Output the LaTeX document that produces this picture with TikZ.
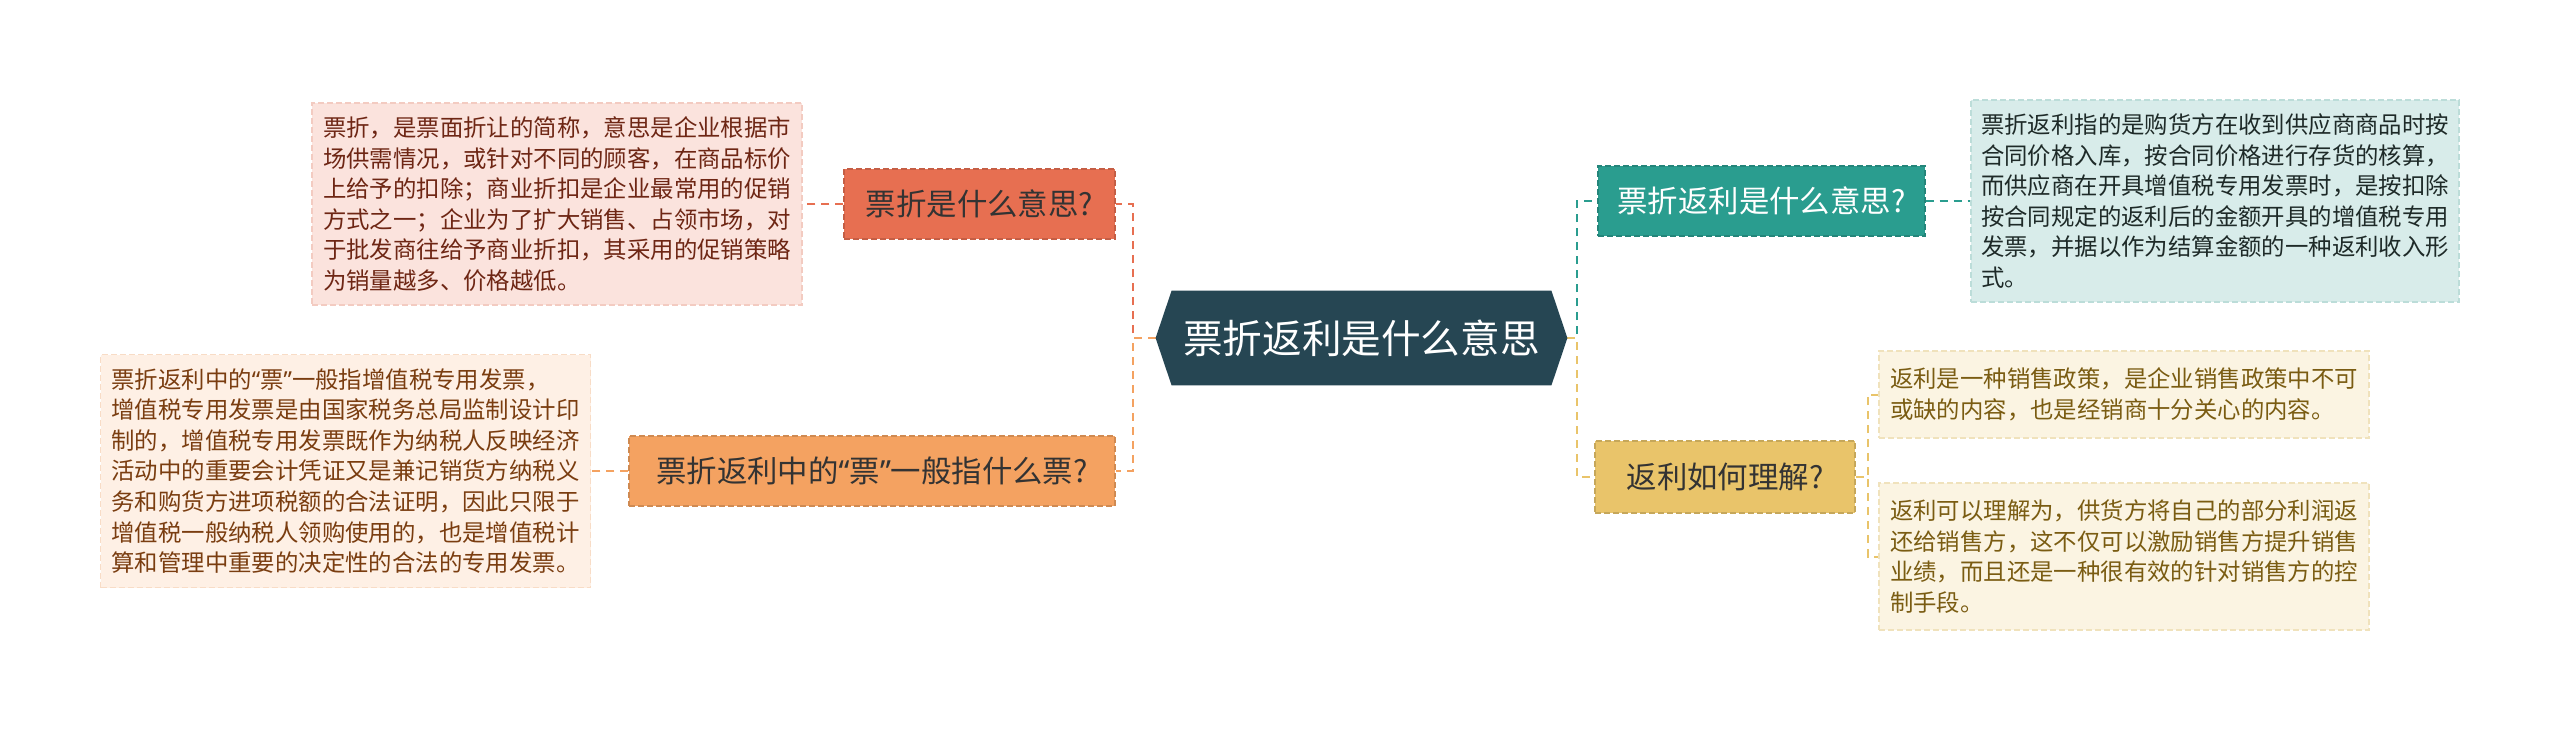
\documentclass[tikz,border=0pt]{standalone}
\usepackage{fontspec}
\setmainfont{Noto Sans CJK SC}
\newfontfamily\qfont{Noto Sans}
\usetikzlibrary{backgrounds}
\definecolor{cdark}{HTML}{264653}
\definecolor{cteal}{HTML}{2A9D8F}
\definecolor{cgold}{HTML}{E9C46A}
\definecolor{corange}{HTML}{F4A261}
\definecolor{cred}{HTML}{E76F51}
\definecolor{tredfill}{HTML}{FBE3DD}
\definecolor{tredline}{HTML}{F3CBC1}
\definecolor{tredtext}{HTML}{6E2614}
\definecolor{torfill}{HTML}{FEF0E5}
\definecolor{torline}{HTML}{F8DCC6}
\definecolor{tortext}{HTML}{7A3D10}
\definecolor{ttealfill}{HTML}{D8ECEA}
\definecolor{ttealline}{HTML}{BCDDD9}
\definecolor{ttealtext}{HTML}{1E2A28}
\definecolor{tgoldfill}{HTML}{FBF4E2}
\definecolor{tgoldline}{HTML}{F0E2BC}
\definecolor{tgoldtext}{HTML}{7A5C12}
\definecolor{btext}{HTML}{333333}
\begin{document}
\begin{tikzpicture}[x=0.5pt,y=-0.5pt,
  branchbox/.style={inner sep=0pt, minimum height=35pt,
    font=\fontsize{15.2}{18}\selectfont, dash pattern=on 3pt off 1.5pt, line width=0.6pt},
  textbox/.style={inner sep=0pt, minimum width=245pt, align=left,
    font=\fontsize{11.7}{15.3}\selectfont, dash pattern=on 3pt off 1.5pt, line width=0.6pt},
  conn/.style={line width=1pt, dash pattern=on 4pt off 3pt}]
\useasboundingbox (0,0) rectangle (2560,729);

% central
\node[inner sep=0pt, minimum width=205.5pt, minimum height=47pt, text=white,
  font=\fontsize{19.8}{22}\selectfont] (c) at (1361.5,338) {票折返利是什么意思};

% branches
\node[branchbox, minimum width=135.5pt, fill=cred, draw=cred!85!black, text=btext] (lb1) at (979.5,204) {票折是什么意思?};
\node[branchbox, minimum width=243pt, fill=corange, draw=corange!85!black, text=btext] (lb2) at (872,471) {票折返利中的{\qfont “}票{\qfont ”}一般指什么票?};
\node[branchbox, minimum width=163.5pt, fill=cteal, draw=cteal!85!black, text=white] (rb1) at (1761.5,201) {票折返利是什么意思?};
\node[branchbox, minimum width=130pt, minimum height=36pt, fill=cgold, draw=cgold!85!black, text=btext] (rb2) at (1725,477) {返利如何理解?};

% text boxes
\node[textbox, minimum height=101pt, fill=tredfill, draw=tredline, text=tredtext] (lt1) at (557,204) {票折，是票面折让的简称，意思是企业根据市\\场供需情况，或针对不同的顾客，在商品标价\\上给予的扣除；商业折扣是企业最常用的促销\\方式之一；企业为了扩大销售、占领市场，对\\于批发商往给予商业折扣，其采用的促销策略\\为销量越多、价格越低。};
\node[textbox, minimum height=116.5pt, fill=torfill, draw=torline, text=tortext] (lt2) at (345.5,471) {票折返利中的{\qfont “}票{\qfont ”}一般指增值税专用发票，\\增值税专用发票是由国家税务总局监制设计印\\制的，增值税专用发票既作为纳税人反映经济\\活动中的重要会计凭证又是兼记销货方纳税义\\务和购货方进项税额的合法证明，因此只限于\\增值税一般纳税人领购使用的，也是增值税计\\算和管理中重要的决定性的合法的专用发票。};
\node[textbox, minimum width=244pt, minimum height=101pt, fill=ttealfill, draw=ttealline, text=ttealtext] (rt1) at (2215,201) {票折返利指的是购货方在收到供应商商品时按\\合同价格入库，按合同价格进行存货的核算，\\而供应商在开具增值税专用发票时，是按扣除\\按合同规定的返利后的金额开具的增值税专用\\发票，并据以作为结算金额的一种返利收入形\\式。};
\node[textbox, minimum height=43.5pt, fill=tgoldfill, draw=tgoldline, text=tgoldtext] (rt2a) at (2124,394.5) {返利是一种销售政策，是企业销售政策中不可\\或缺的内容，也是经销商十分关心的内容。};
\node[textbox, minimum height=73.5pt, fill=tgoldfill, draw=tgoldline, text=tgoldtext] (rt2b) at (2124,556.5) {返利可以理解为，供货方将自己的部分利润返\\还给销售方，这不仅可以激励销售方提升销售\\业绩，而且还是一种很有效的针对销售方的控\\制手段。};

\begin{pgfonlayer}{background}
\fill[white] (0,0) rectangle (2560,729);
\draw[conn, cred] (c.west) -- ++(-23,0) |- (lb1.east);
\draw[conn, corange] (c.west) -- ++(-23,0) |- (lb2.east);
\draw[conn, cteal] (c.east) -- ++(10,0) |- (rb1.west);
\draw[conn, cgold] (c.east) -- ++(10,0) |- (rb2.west);
\draw[conn, cred] (lb1.west) -- (lt1.east);
\draw[conn, corange] (lb2.west) -- (lt2.east);
\draw[conn, cteal] (rb1.east) -- (rt1.west);
\draw[conn, cgold] (rb2.east) -- ++(12,0) |- (rt2a.west);
\draw[conn, cgold] (rb2.east) -- ++(12,0) |- (rt2b.west);
\fill[cdark] (c.west) -- ([xshift=8pt]c.north west) -- ([xshift=-8pt]c.north east) -- (c.east) -- ([xshift=-8pt]c.south east) -- ([xshift=8pt]c.south west) -- cycle;
\end{pgfonlayer}
\end{tikzpicture}
\end{document}
